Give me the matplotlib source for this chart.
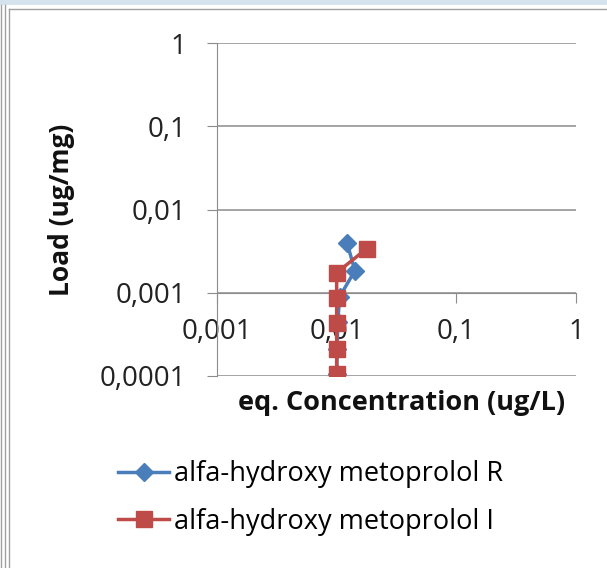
import matplotlib
matplotlib.use("Agg")
import matplotlib.pyplot as plt
from matplotlib.lines import Line2D
from matplotlib.patches import Rectangle

plt.rcParams['font.family'] = ['Open Sans', 'DejaVu Sans']

# data
conc_r = [0.0122, 0.0142, 0.0106, 0.0102, 0.0101, 0.0100]
load_r = [0.0040, 0.00184, 0.00090, 0.00044, 0.00021, 0.000105]
conc_i = [0.0179, 0.0100, 0.0100, 0.0100, 0.0100, 0.0100]
load_i = [0.0034, 0.00174, 0.00087, 0.000435, 0.000211, 0.000106]

x_ticks = [0.001, 0.01, 0.1, 1]
x_labels = ["0,001", "0,01", "0,1", "1"]
y_ticks = [0.0001, 0.001, 0.01, 0.1, 1]
y_labels = ["0,0001", "0,001", "0,01", "0,1", "1"]

W, H = 607, 568
fig = plt.figure(figsize=(W / 100, H / 100), dpi=100)
ax = fig.add_axes([217 / W, 1 - 376 / H, 359 / W, 333 / H])

ax.set_xscale("log")
ax.set_yscale("log")
ax.set_xlim(0.001, 1)
ax.set_ylim(0.0001, 1)

axis_col = "#8c8c8c"
for y in y_ticks:
    ax.axhline(y, color=axis_col, lw=1.1, zorder=1)

ax.plot(conc_r, load_r, color="#4a7ebb", lw=2.5, marker="D", ms=9,
        label="alfa-hydroxy metoprolol R", zorder=3)
ax.plot(conc_i, load_i, color="#be4b48", lw=2.5, marker="s", ms=12,
        label="alfa-hydroxy metoprolol I", zorder=4)

ax.spines["top"].set_visible(False)
ax.spines["right"].set_visible(False)
ax.spines["bottom"].set_position(("data", 0.001))
ax.spines["bottom"].set_color(axis_col)
ax.spines["left"].set_color(axis_col)

ax.set_xticks(x_ticks)
ax.set_xticklabels(x_labels)
ax.set_yticks(y_ticks)
ax.set_yticklabels(y_labels)
ax.minorticks_off()
ax.tick_params(axis="x", length=7, color=axis_col, pad=11, labelsize=20, labelcolor="#222222")
ax.tick_params(axis="y", length=7, color=axis_col, pad=15, labelsize=20, labelcolor="#222222")

ax.set_xlabel("eq. Concentration (ug/L)", fontsize=19.5, fontweight="bold", color="#111111")
ax.xaxis.set_label_coords(0.515, -0.081)
ax.xaxis.label.set_va("center")
ax.set_ylabel("Load (ug/mg)", fontsize=19, fontweight="bold", color="#111111")
ax.yaxis.set_label_coords(-0.432, 0.5)
ax.yaxis.label.set_va("center")

fig.legend(loc="upper left", bbox_to_anchor=(118 / W, 1 - 460 / H), frameon=False,
           fontsize=19.5, handlelength=1.9, handletextpad=0.15, labelspacing=0.72,
           borderpad=0, borderaxespad=0)

# window / chart frame
fig.add_artist(Rectangle((0, 1 - 5 / H), 1, 5 / H, transform=fig.transFigure,
                         color="#d5e3ee", lw=0))
for xp in [1.5, 4.5]:
    fig.add_artist(Line2D([xp / W, xp / W], [0, 1 - 5 / H], transform=fig.transFigure,
                          color="#a0a0a0", lw=1))
fig.add_artist(Line2D([8.5 / W, 8.5 / W], [0, 1 - 9 / H], transform=fig.transFigure,
                      color="#a0a0a0", lw=1))
fig.add_artist(Line2D([8.5 / W, 1], [1 - 9 / H, 1 - 9 / H], transform=fig.transFigure,
                      color="#a0a0a0", lw=1))

fig.savefig("out.png", dpi=100)
